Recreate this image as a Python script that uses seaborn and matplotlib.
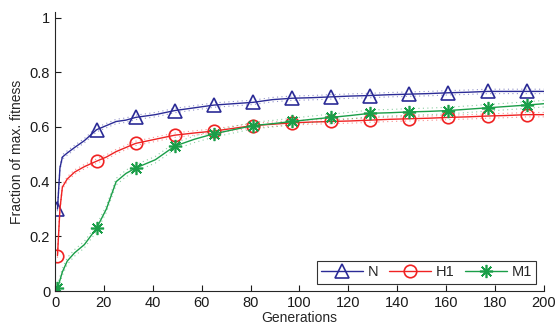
import pandas as pd
import seaborn as sns
import matplotlib
matplotlib.use("Agg")
import matplotlib.pyplot as plt

# --- Data ---
generations = [1, 2, 3, 5, 8, 12, 17, 21, 25, 29, 33, 41, 49, 57, 65, 73, 81,
               89, 97, 105, 113, 121, 129, 137, 145, 153, 161, 169, 177, 185,
               193, 200]
fit_n = [0.30, 0.45, 0.49, 0.505, 0.525, 0.55, 0.59, 0.605, 0.62, 0.625,
         0.635, 0.645, 0.66, 0.67, 0.68, 0.685, 0.69, 0.70, 0.705, 0.707,
         0.71, 0.713, 0.715, 0.718, 0.72, 0.722, 0.725, 0.727, 0.73, 0.73,
         0.73, 0.73]
fit_h1 = [0.13, 0.30, 0.38, 0.41, 0.435, 0.455, 0.475, 0.49, 0.51, 0.525,
          0.54, 0.555, 0.57, 0.578, 0.585, 0.595, 0.605, 0.61, 0.615, 0.618,
          0.62, 0.622, 0.625, 0.628, 0.63, 0.632, 0.635, 0.637, 0.64, 0.642,
          0.645, 0.645]
fit_m1 = [0.01, 0.04, 0.07, 0.11, 0.14, 0.17, 0.23, 0.30, 0.40, 0.43,
          0.45, 0.48, 0.53, 0.555, 0.575, 0.59, 0.605, 0.612, 0.62, 0.628,
          0.635, 0.642, 0.65, 0.652, 0.655, 0.657, 0.66, 0.665, 0.67, 0.675,
          0.68, 0.685]
band_n = 0.008
band_h1 = 0.008
band_m1 = 0.012

series = [
    ("N", fit_n, band_n, "#2b2b96", "^", 10),
    ("H1", fit_h1, band_h1, "#f02222", "o", 9),
    ("M1", fit_m1, band_m1, "#1a9e48", (8, 2, 0), 9.5),
]
marker_gens = list(range(1, 200, 16))
mark_idx = [generations.index(g) for g in marker_gens]

sns.set_style("ticks")
plt.rcParams["font.family"] = ["Liberation Sans", "DejaVu Sans"]

fig = plt.figure(figsize=(5.56, 3.26), dpi=100)
ax = fig.add_axes([0.099, 0.107, 0.879, 0.856])

for name, vals, band, color, mk, ms in series:
    df = pd.DataFrame({"gen": generations, "fit": vals})
    for sign in (1, -1):
        sns.lineplot(x=df["gen"], y=df["fit"] + sign * band, ax=ax,
                     color=color, lw=0.8, ls=(0, (1, 3)), alpha=0.5)
    sns.lineplot(data=df, x="gen", y="fit", ax=ax, color=color, lw=1.0,
                 marker=mk, markersize=ms, markevery=mark_idx,
                 markerfacecolor="none", markeredgecolor=color,
                 markeredgewidth=1.2, label=name)

ax.set_xlim(0, 200)
ax.set_ylim(0, 1.02)
ax.set_xticks(range(0, 201, 20))
ax.set_yticks([0, 0.2, 0.4, 0.6, 0.8, 1])
ax.set_yticklabels(["0", "0.2", "0.4", "0.6", "0.8", "1"])
ax.tick_params(direction="in", length=4, labelsize=10.5, colors="#1a1a1a")
ax.set_xlabel("Generations", fontsize=10, labelpad=1)
ax.set_ylabel("Fraction of max. fitness", fontsize=10)
sns.despine(ax=ax)

leg = ax.legend(loc="lower right", ncol=3, frameon=True, fancybox=False,
                fontsize=10.5, handlelength=2.85, columnspacing=0.75,
                handletextpad=0.33, borderpad=0.3, borderaxespad=0.5)
leg.get_frame().set_edgecolor("black")
leg.get_frame().set_linewidth(0.8)

fig.savefig("out.png", dpi=100)
